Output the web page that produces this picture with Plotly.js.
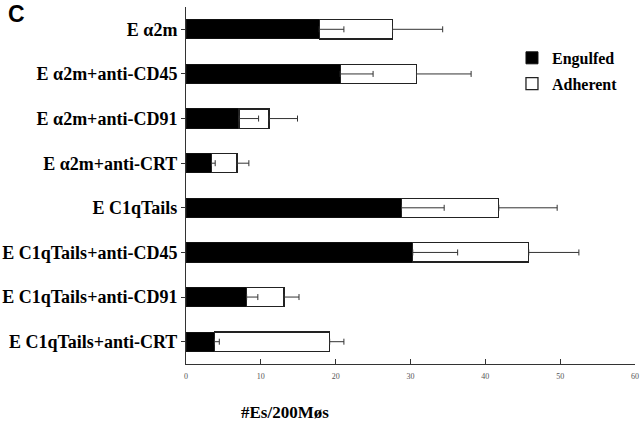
<!DOCTYPE html>
<html>
<head>
<meta charset="utf-8">
<script src="https://cdn.plot.ly/plotly-3.0.1.min.js"></script>
<style>html,body{margin:0;padding:0;background:#fff;}#chart{width:640px;height:430px;}</style>
</head>
<body>
<div id="chart"></div>
<script>
// ---- data ----
var categories = [
  "E \u03b12m",
  "E \u03b12m+anti-CD45",
  "E \u03b12m+anti-CD91",
  "E \u03b12m+anti-CRT",
  "E C1qTails",
  "E C1qTails+anti-CD45",
  "E C1qTails+anti-CD91",
  "E C1qTails+anti-CRT"
];
var engulfed    = [17.8, 20.6, 7.1, 3.4, 28.8, 30.3, 8.1, 3.8];
var engulfedErr = [3.3, 4.4, 2.6, 0.5, 5.7, 6.0, 1.5, 0.65];
var adherent    = [9.8, 10.2, 4.0, 3.4, 13.0, 15.5, 5.0, 15.4];
var adherentErr = [6.7, 7.3, 3.8, 1.6, 7.8, 6.7, 2.0, 1.9];
var xTicks = [0, 10, 20, 30, 40, 50, 60];

var totals = engulfed.map(function(v, i){ return v + adherent[i]; });
var zeros = engulfed.map(function(){ return 0; });

var serif = "Liberation Serif, Times New Roman, serif";

var traces = [
  {type:'bar', orientation:'h', name:'Engulfed', y:categories, x:engulfed,
   marker:{color:'#000', line:{color:'#111', width:1}}, legendgroup:'a'},
  {type:'bar', orientation:'h', name:'Adherent', y:categories, x:adherent,
   marker:{color:'#fff', line:{color:'#222', width:1.3}}, legendgroup:'b'},
  {type:'scatter', mode:'markers', y:categories, x:engulfed, showlegend:false,
   marker:{size:1, opacity:0},
   error_x:{type:'data', symmetric:false, array:engulfedErr, arrayminus:zeros,
            width:3, thickness:1, color:'#333'}},
  {type:'scatter', mode:'markers', y:categories, x:totals, showlegend:false,
   marker:{size:1, opacity:0},
   error_x:{type:'data', symmetric:false, array:adherentErr, arrayminus:zeros,
            width:3, thickness:1, color:'#333'}}
];

var layout = {
  width:640, height:430,
  margin:{l:186, r:5, t:7, b:66},
  paper_bgcolor:'#fff', plot_bgcolor:'#fff',
  barmode:'stack', bargap:0.57,
  showlegend:true,
  legend:{x:0.726, y:0.905, xanchor:'left', yanchor:'top',
          font:{family:serif, size:16, color:'#000', weight:'bold'},
          traceorder:'grouped', tracegroupgap:2, bgcolor:'rgba(0,0,0,0)'},
  xaxis:{range:[0,60], tickvals:xTicks, ticktext:xTicks.map(String),
         showgrid:false, zeroline:false, showline:true, linecolor:'#333', linewidth:1,
         ticks:'inside', ticklen:5, tickcolor:'#333', tickwidth:1, ticklabelstandoff:4,
         tickfont:{family:serif, size:8, color:'#555'}, fixedrange:true},
  yaxis:{type:'category', categoryorder:'array', categoryarray:categories,
         range:[7.5,-0.5], showgrid:false, zeroline:false, showline:true,
         linecolor:'#333', linewidth:1, ticks:'outside', ticklen:4, tickcolor:'#333',
         tickfont:{family:serif, size:18, color:'#000', weight:'bold'}, fixedrange:true},
  annotations:[
    {text:'#Es/200M\u00f8s', xref:'paper', yref:'paper', x:(285-186)/449, y:-(412-364)/357,
     xanchor:'center', yanchor:'middle', showarrow:false,
     font:{family:serif, size:17, color:'#000', weight:'bold'}},
    {text:'C', xref:'paper', yref:'paper', x:-(186-6)/449, y:1+(7-14)/357 ,
     xanchor:'left', yanchor:'middle', showarrow:false,
     font:{family:'Liberation Sans, Arial, sans-serif', size:23, color:'#000', weight:'bold'}}
  ]
};

Plotly.newPlot('chart', traces, layout, {displayModeBar:false, staticPlot:true});
</script>
</body>
</html>
